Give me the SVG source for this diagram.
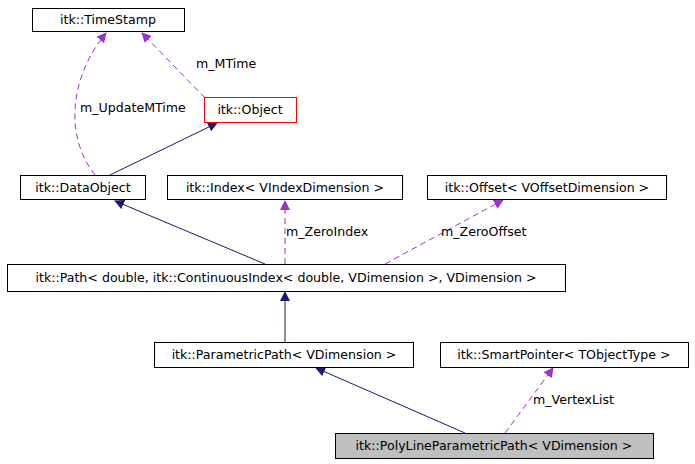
<svg xmlns="http://www.w3.org/2000/svg" width="695" height="464" viewBox="0 0 695 464">
<defs>
<style>
.n rect{fill:#fff;stroke:#000;stroke-width:1}
text{font-family:"DejaVu Sans","Liberation Sans",sans-serif;font-size:12.6px;fill:#000}
.t{text-anchor:middle}
.inh{fill:none;stroke:#191970;stroke-width:1}
.use{fill:none;stroke:#9a32cd;stroke-width:1;stroke-dasharray:6,4}
</style>
<marker id="ah" markerWidth="10" markerHeight="10" refX="9" refY="5" orient="auto" markerUnits="userSpaceOnUse"><path d="M0,0 L10,5 L0,10 z" fill="#191970"/></marker>
<marker id="ap" markerWidth="10" markerHeight="10" refX="9" refY="5" orient="auto" markerUnits="userSpaceOnUse"><path d="M0,0 L10,5 L0,10 z" fill="#9a32cd"/></marker>
</defs>
<rect width="695" height="464" fill="#fff"/>
<g id="edges">
<path class="use" d="M205,98 L142,33" marker-end="url(#ap)"/>
<path class="use" d="M95,175 C60,130 75,70 106,33" marker-end="url(#ap)"/>
<path class="inh" d="M110,175 L217,123" marker-end="url(#ah)"/>
<path class="inh" d="M265,264 L115,201" marker-end="url(#ah)"/>
<path class="use" d="M285,264 L285,201" marker-end="url(#ap)"/>
<path class="use" d="M385,264 L503,200" marker-end="url(#ap)"/>
<path class="inh" d="M285,342 L285,292" marker-end="url(#ah)"/>
<path class="inh" d="M465,433 L316,368" marker-end="url(#ah)"/>
<path class="use" d="M505,433 L553,368" marker-end="url(#ap)"/>
<text x="196" y="68">m_MTime</text>
<text x="80" y="112">m_UpdateMTime</text>
<text x="286" y="236">m_ZeroIndex</text>
<text x="441" y="236">m_ZeroOffset</text>
<text x="533" y="404">m_VertexList</text>
</g>
<g id="timestamp" class="n"><rect x="32.5" y="8.5" width="152" height="23"/><text class="t" x="108" y="24">itk::TimeStamp</text></g>
<g id="object" class="n"><rect x="204.5" y="97.5" width="92" height="25" style="stroke:#f00"/><text class="t" x="250" y="114">itk::Object</text></g>
<g id="dataobject" class="n"><rect x="20.5" y="175.5" width="125" height="24"/><text class="t" x="83" y="192">itk::DataObject</text></g>
<g id="index" class="n"><rect x="167.5" y="175.5" width="235" height="24"/><text class="t" x="285" y="192">itk::Index&lt; VIndexDimension &gt;</text></g>
<g id="offset" class="n"><rect x="427.5" y="175.5" width="239" height="24"/><text class="t" x="547" y="192">itk::Offset&lt; VOffsetDimension &gt;</text></g>
<g id="path" class="n"><rect x="7.5" y="264.5" width="558" height="27"/><text class="t" x="286" y="282">itk::Path&lt; double, itk::ContinuousIndex&lt; double, VDimension &gt;, VDimension &gt;</text></g>
<g id="parametricpath" class="n"><rect x="154.5" y="342.5" width="259" height="25"/><text class="t" x="284" y="359">itk::ParametricPath&lt; VDimension &gt;</text></g>
<g id="smartpointer" class="n"><rect x="440.5" y="342.5" width="248" height="25"/><text class="t" x="564" y="359">itk::SmartPointer&lt; TObjectType &gt;</text></g>
<g id="polyline" class="n"><rect x="335.5" y="433.5" width="318" height="25" style="fill:#bfbfbf"/><text class="t" x="494" y="450">itk::PolyLineParametricPath&lt; VDimension &gt;</text></g>
</svg>
